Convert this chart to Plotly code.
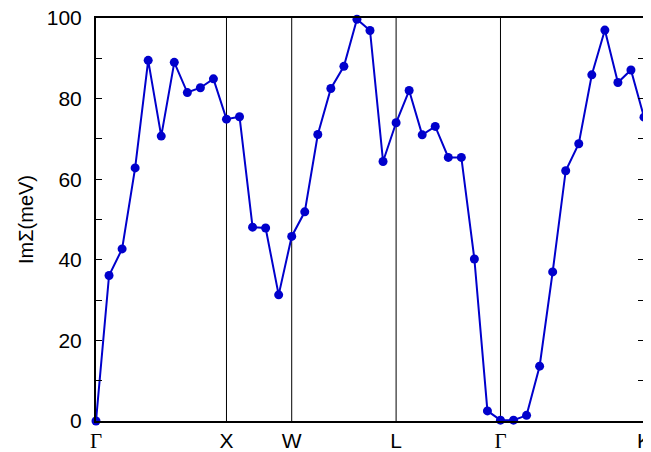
import plotly.graph_objects as go

# Data
x_index = list(range(43))
im_sigma = [0.0, 36.1, 42.7, 62.8, 89.5, 70.7, 89.0, 81.5, 82.7, 84.9,
            74.9, 75.5, 48.1, 47.9, 31.3, 45.8, 51.9, 71.1, 82.5, 88.0,
            99.7, 96.9, 64.4, 74.0, 82.0, 71.0, 73.1, 65.4, 65.4, 40.2,
            2.5, 0.2, 0.2, 1.4, 13.6, 37.0, 62.1, 68.8, 85.9, 97.0,
            84.0, 87.1, 75.4]
kpoint_pos = [0, 10, 15, 23, 31, 42]
kpoint_labels = ["Γ", "X", "W", "L", "Γ", "K"]

gamma_span = '<span style="font-family:Liberation Serif, serif">Γ</span>'
tick_text = [gamma_span if t == "Γ" else t for t in kpoint_labels]

fig = go.Figure()
fig.add_trace(go.Scatter(
    x=x_index, y=im_sigma, mode="lines+markers",
    line=dict(color="#0000cc", width=2),
    marker=dict(color="#0000cc", size=9),
    cliponaxis=False, showlegend=False,
))

for p in kpoint_pos[1:-1]:
    fig.add_shape(type="line", x0=p, x1=p, y0=0, y1=100, xref="x", yref="y",
                  line=dict(color="black", width=1), layer="below")

# page body has an 8px margin, so the figure is sized to end at the window edge
fig.update_layout(
    width=643, height=444,
    margin=dict(l=88, r=7, t=10, b=31),
    paper_bgcolor="white", plot_bgcolor="white",
    font=dict(family="Liberation Sans, Arial, sans-serif", size=21, color="black"),
)
fig.update_xaxes(
    range=[0, 42], tickvals=kpoint_pos, ticktext=tick_text,
    showgrid=False, zeroline=False, showline=True, linecolor="black",
    linewidth=2, mirror=True, ticks="", ticklabelstandoff=0, automargin=False,
    ticklabeloverflow="allow",
)
fig.update_yaxes(
    range=[0, 100], tickvals=[0, 20, 40, 60, 80, 100],
    showgrid=False, zeroline=False, showline=True, linecolor="black",
    linewidth=2, mirror="allticks", ticks="inside", ticklen=6, tickwidth=1,
    tickcolor="black", automargin=False, ticklabeloverflow="allow",
    minor=dict(tickvals=[10, 30, 50, 70, 90], ticks="inside", ticklen=6,
               tickwidth=1, tickcolor="black", showgrid=False),
    title=dict(text="ImΣ(meV)", font=dict(size=20), standoff=8),
    ticklabelstandoff=8,
)

fig.write_html("out.html")
